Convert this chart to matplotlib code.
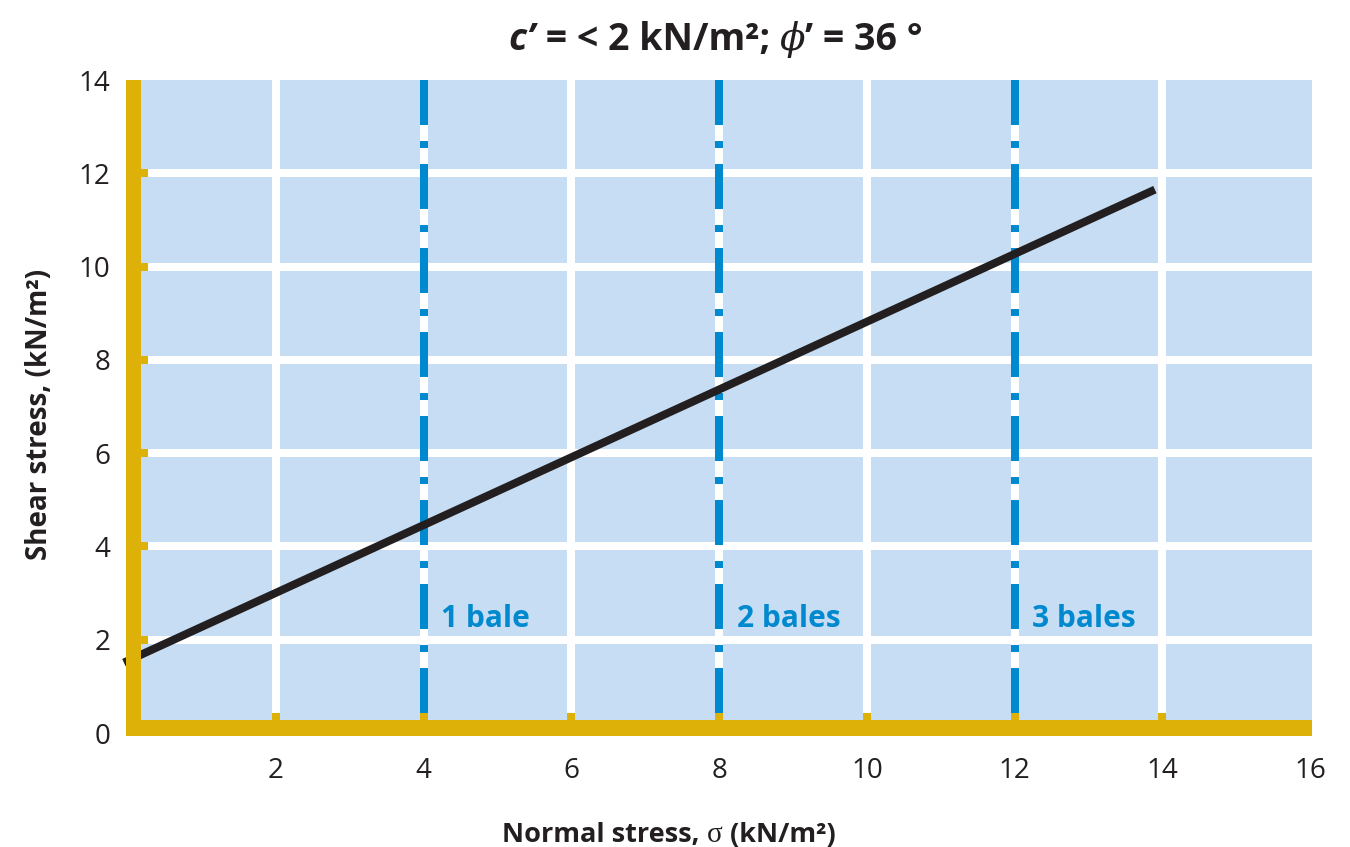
import matplotlib
matplotlib.use("Agg")
import matplotlib.pyplot as plt
from matplotlib.patches import Rectangle

# Failure envelope (normal stress vs shear stress, kN/m²)
normal_stress = [-0.06, 13.9]
shear_stress = [1.51, 11.65]

# Loading from stacked bales
bale_stress = [4, 8, 12]
bale_labels = ["1 bale", "2 bales", "3 bales"]
bale_label_y = 2.45

x_ticks = [2, 4, 6, 8, 10, 12, 14, 16]
y_ticks = [0, 2, 4, 6, 8, 10, 12, 14]

W, H = 1350, 847
BG = "#C6DDF3"
GOLD = "#DEB109"
BLUE = "#0089CF"
INK = "#231F20"
FONT = ["Open Sans", "DejaVu Sans"]

plt.rcParams["font.family"] = FONT
plt.rcParams["lines.scale_dashes"] = False

fig = plt.figure(figsize=(W / 100, H / 100), dpi=100)
ax = fig.add_axes([128.3 / W, (H - 733) / H, (1310 - 128.3) / W, (733 - 80) / H])
ax.set_xlim(0, 16)
ax.set_ylim(0, 14)
ax.patch.set_visible(False)
for s in ax.spines.values():
    s.set_visible(False)

px = 72 / 100  # points per pixel
grid_lw = 8 * px

# plotting field
x_in, y_in = 0.17, 0.28
ax.add_patch(Rectangle((x_in, y_in), 16.03 - x_in, 14 - y_in, facecolor=BG,
                       edgecolor="none", zorder=0, clip_on=False))

# white grid with gold stubs at the frame
for gx in x_ticks[:-1]:
    ax.plot([gx, gx], [y_in, 14], color="white", lw=grid_lw, solid_capstyle="butt", zorder=1)
    ax.plot([gx, gx], [y_in - 0.1, y_in + 0.15], color=GOLD, lw=grid_lw,
            solid_capstyle="butt", zorder=4, clip_on=False)
for gy in y_ticks[1:-1]:
    ax.plot([x_in, 16.03], [gy, gy], color="white", lw=grid_lw, solid_capstyle="butt",
            zorder=1, clip_on=False)
    ax.plot([x_in - 0.1, x_in + 0.1], [gy, gy], color=GOLD, lw=grid_lw,
            solid_capstyle="butt", zorder=4, clip_on=False)

# bale loading lines
for bx, lab in zip(bale_stress, bale_labels):
    ln, = ax.plot([bx, bx], [14, y_in + 0.15], color=BLUE, lw=grid_lw,
                  solid_capstyle="butt", dash_capstyle="butt", zorder=2, clip_on=False)
    ln.set_dashes([45 * px, 16 * px, 7 * px, 16 * px])
    ax.text(bx + 0.24, bale_label_y, lab, color=BLUE, fontsize=21.5, fontweight="bold",
            ha="left", va="center", zorder=5)

# failure envelope
ax.plot(normal_stress, shear_stress, color=INK, lw=8 * px, solid_capstyle="butt",
        zorder=3, clip_on=False)

# gold frame
ax.add_patch(Rectangle((-0.03, -0.06), x_in + 0.03, 14.06, facecolor=GOLD,
                       edgecolor="none", zorder=4, clip_on=False))
ax.add_patch(Rectangle((-0.03, -0.06), 16.06, y_in + 0.06, facecolor=GOLD,
                       edgecolor="none", zorder=4, clip_on=False))

ax.set_xticks(x_ticks)
ax.set_yticks(y_ticks)
ax.tick_params(length=0, labelsize=20, labelcolor=INK)
ax.tick_params(axis="x", pad=17)
ax.tick_params(axis="y", pad=13)

renderer = fig.canvas.get_renderer()


def draw_runs(runs, cx_px, base_px):
    """Lay out text runs of mixed style side by side, centred on cx_px."""
    texts = []
    for s, kw in runs:
        texts.append(fig.text(0, 1 - base_px / H, s, ha="left", va="baseline", **kw))
    widths = [t.get_window_extent(renderer).width for t in texts]
    x = cx_px - sum(widths) / 2
    for t, w in zip(texts, widths):
        t.set_x(x / W)
        x += w


bold = dict(fontsize=27, fontweight="bold", color=INK, family=FONT)
draw_runs([
    ("c’", dict(bold, fontstyle="italic")),
    (" = < 2 kN/m²; ", bold),
    ("ϕ", dict(fontsize=27, fontstyle="italic", color=INK, family=["DejaVu Serif"])),
    ("’ = 36 °", bold),
], 716, 50)

lab = dict(fontsize=19.5, fontweight="bold", color=INK, family=FONT)
draw_runs([
    ("Normal stress, ", lab),
    ("σ", dict(fontsize=21, color=INK, family=["Liberation Serif"])),
    (" (kN/m²)", lab),
], 669, 842)

fig.text(40 / W, 1 - 414 / H, "Shear stress, (kN/m²)", rotation=90, ha="center",
         va="center", fontsize=20, fontweight="bold", color=INK)

fig.savefig("out.png", dpi=100)
